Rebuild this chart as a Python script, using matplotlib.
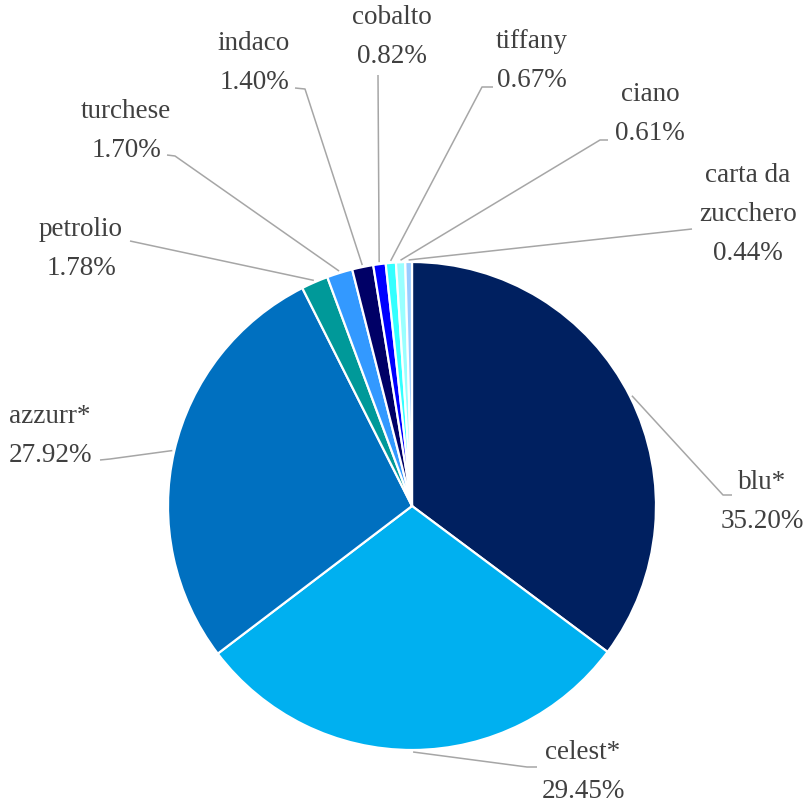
import numpy as np
import matplotlib.pyplot as plt

# color shares
labels = ["blu*", "celest*", "azzurr*", "petrolio", "turchese", "indaco",
          "cobalto", "tiffany", "ciano", "carta da\nzucchero"]
values = [35.20, 29.45, 27.92, 1.78, 1.70, 1.40, 0.82, 0.67, 0.61, 0.44]
colors = ["#002060", "#00B0F0", "#0070C0", "#009999", "#3399FF", "#000066",
          "#0000FF", "#33FFFF", "#99FFFF", "#99CCFF"]

W, H = 806, 805

def px(x, y):
    # pixel coords (y down) -> axes data coords (y up)
    return x, H - y

# label anchor (center x, baseline of last line) and leader-line elbows, in pixels
label_pos = [(762, 528), (583, 798), (50, 462), (81, 275), (126, 157),
             (254, 89), (392, 63), (532, 87), (650, 140), (748, 260)]
leader_pts = [
    [(723, 495), (732, 495)],
    [(527, 767), (537, 767)],
    [(110, 459), (100, 460)],
    [(130, 241)],
    [(175, 156), (167, 155)],
    [(305, 89), (295, 88)],
    [(378, 75)],
    [(482, 87), (493, 87)],
    [(600, 140), (608, 140)],
    [(692, 229)],
]

center = px(412, 506)
radius = 244
explode = [0, 0, 0] + [0.04] * 7

fig = plt.figure(figsize=(W / 100, H / 100), dpi=100)
ax = fig.add_axes([0, 0, 1, 1])

wedges, _ = ax.pie(values, colors=colors, explode=explode, startangle=90,
                   counterclock=False, center=center, radius=radius,
                   wedgeprops=dict(edgecolor="white", linewidth=1.6))

ax.set_xlim(0, W)
ax.set_ylim(0, H)
ax.axis("off")

for i, w in enumerate(wedges):
    ang = np.deg2rad((w.theta1 + w.theta2) / 2)
    cx, cy = w.center
    r = w.r + 2
    start = (cx + r * np.cos(ang), cy + r * np.sin(ang))
    pts = [start] + [px(*p) for p in leader_pts[i]]
    xs, ys = zip(*pts)
    ax.plot(xs, ys, color="#A6A6A6", lw=1.1, solid_capstyle="butt")
    tx, ty = px(*label_pos[i])
    ax.text(tx, ty, f"{labels[i]}\n{values[i]:.2f}%", ha="center", va="baseline",
            fontsize=19.5, family="Liberation Serif", color="#404040",
            linespacing=1.75)

fig.savefig("out.png", dpi=100)
